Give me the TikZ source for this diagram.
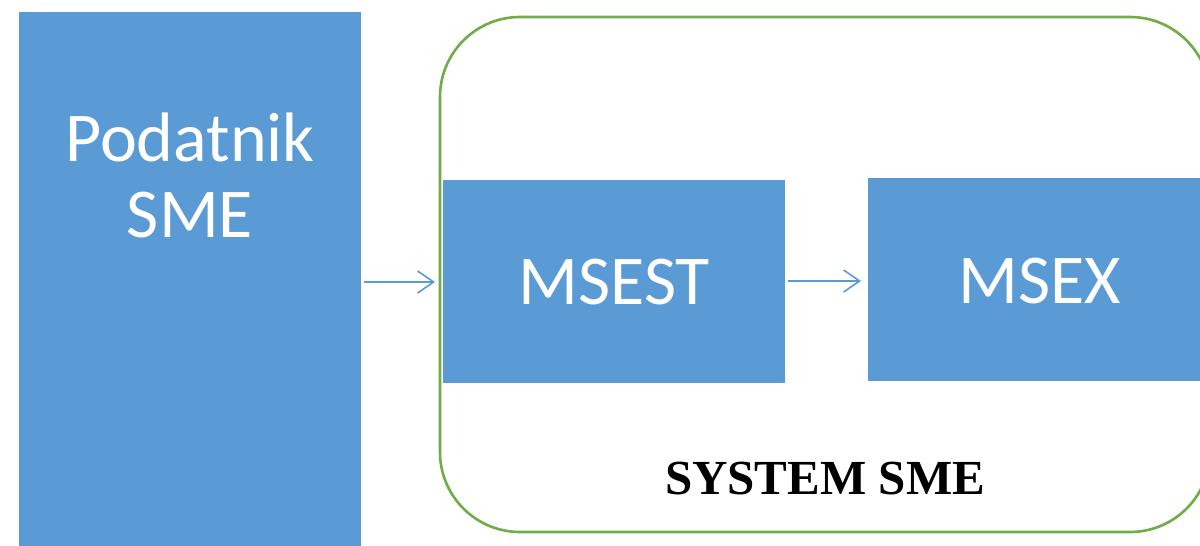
\documentclass[tikz,border=0pt]{standalone}
\usepackage{fontspec}
\setmainfont{Liberation Serif}
\newfontfamily\calib{Carlito}
\usetikzlibrary{arrows.meta}
\definecolor{boxblue}{HTML}{5B9BD5}
\definecolor{frgreen}{HTML}{70AD47}
\tikzset{
  bluebox/.style={draw=none, fill=boxblue, inner sep=0pt, anchor=north west},
  boxtext/.style={text=white, font=\calib\fontsize{70}{76}\selectfont, align=center, inner sep=0pt},
  link/.style={draw=boxblue, line width=1.6pt, -{Straight Barb[length=16pt,width=22pt,line width=1.6pt]}},
  frame/.style={draw=frgreen, line width=2.6pt, rounded corners=80pt}
}
\begin{document}
\begin{tikzpicture}[x=1pt,y=-1pt]
\useasboundingbox (0,0) rectangle (1200,546);
\clip (0,0) rectangle (1200,546);
\fill[white] (0,0) rectangle (1200,546);
\draw[frame] (440,17) rectangle (1210,532);
\node[bluebox, minimum width=342pt, minimum height=540pt] (pod) at (19,12) {};
\node[bluebox, minimum width=342pt, minimum height=203pt] (msest) at (443,180) {};
\node[bluebox, minimum width=345pt, minimum height=203pt] (msex) at (868,178) {};
\node[boxtext] (podt) at (190,175) {Podatnik\\SME};
\node[boxtext] (msestt) at (msest.center) {MSEST};
\node[boxtext] (msext) at (1040,281) {MSEX};
\node[font=\bfseries\fontsize{49}{56}\selectfont, inner sep=0pt] (sys) at (825,479) {SYSTEM SME};
\draw[link, shorten <=3pt, shorten >=8pt] (pod.east |- 0,282) -- (msest.west |- 0,282);
\draw[link, shorten <=3pt, shorten >=7pt] (msest.east |- 0,281) -- (msex.west |- 0,281);
\end{tikzpicture}
\end{document}
